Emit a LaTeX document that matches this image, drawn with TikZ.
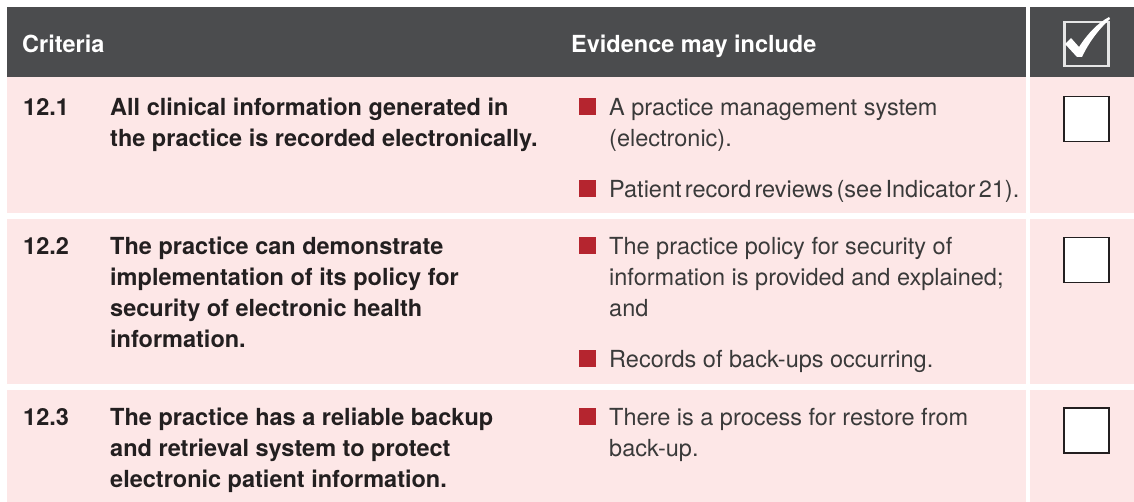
\documentclass[tikz,border=0pt]{standalone}
\usepackage{fontspec}
\setmainfont{TeX Gyre Heros}
\definecolor{headgray}{HTML}{4B4C4E}
\definecolor{rowpink}{HTML}{FDE7E7}
\definecolor{bulletred}{HTML}{B5252F}
\definecolor{inkdark}{HTML}{231F20}
\definecolor{inkgray}{HTML}{3A3A3A}
\begin{document}
\begin{tikzpicture}[x=1pt,y=-1pt,
   headtxt/.style={anchor=north west,inner sep=0,text=white,
      font=\fontsize{23.5}{31}\selectfont\bfseries,execute at begin node=\strut},
   crit/.style={anchor=north west,inner sep=0,align=left,text=inkdark,
      font=\fontsize{23.5}{31}\selectfont\bfseries},
   evid/.style={anchor=north west,inner sep=0,align=left,text=inkgray,
      font=\fontsize{23.5}{31}\selectfont},
   bul/.style={fill=bulletred,minimum size=17pt,inner sep=0,anchor=south west},
   tickbox/.style={draw=inkdark,fill=white,line width=1.5pt,minimum size=45pt,
      inner sep=0,anchor=north west}]
   \useasboundingbox (0,0) rectangle (1134,502);

   % header and rows
   \fill[headgray] (7,7) rectangle (1026,77);
   \fill[headgray] (1030,7) rectangle (1134,77);
   \fill[rowpink] (7,77) rectangle (1026,213);
   \fill[rowpink] (1030,77) rectangle (1134,213);
   \fill[rowpink] (7,219) rectangle (1026,384);
   \fill[rowpink] (1030,219) rectangle (1134,384);
   \fill[rowpink] (7,390) rectangle (1026,502);
   \fill[rowpink] (1030,390) rectangle (1134,502);

   \node[headtxt] (hcrit) at (22,30.3) {Criteria};
   \node[headtxt] (hevid) at (571,30.3) {Evidence may include};
   \node[draw=white!90!black,line width=2.5pt,minimum size=44pt,inner sep=0,
      anchor=north west] (hbox) at (1063,21) {};
   \fill[white] (1065,44) -- (1071,38) -- (1079,47)
      .. controls (1088,33) and (1098,23) .. (1109,17) -- (1110,19)
      .. controls (1099,29) and (1089,42) .. (1082,57) -- (1077,57) -- cycle;

   % 12.1
   \node[crit] (n1) at (23,93.3) {\strut 12.1};
   \node[crit] (c1) at (110,93.3) {\strut All clinical information generated in\\
      the practice is recorded electronically.};
   \node[bul] (b1a) at (579,115) {};
   \node[evid] (e1a) at (609,93.3) {\strut A practice management system\\(electronic).};
   \node[bul] (b1b) at (579,197) {};
   \node[evid] (e1b) at (609,175.3)
      {\strut\spaceskip=3.3pt Patient record reviews (see Indicator 21).};
   \node[tickbox] (t1) at (1063,96) {};

   % 12.2
   \node[crit] (n2) at (23,232.3) {\strut 12.2};
   \node[crit] (c2) at (110,232.3) {\strut The practice can demonstrate\\
      implementation of its policy for\\security of electronic health\\information.};
   \node[bul] (b2a) at (579,254) {};
   \node[evid] (e2a) at (609,232.3) {\strut The practice policy for security of\\
      information is provided and explained;\\and};
   \node[bul] (b2b) at (579,367) {};
   \node[evid] (e2b) at (609,345.3) {\strut Records of back-ups occurring.};
   \node[tickbox] (t2) at (1063,237) {};

   % 12.3
   \node[crit] (n3) at (23,403.3) {\strut 12.3};
   \node[crit] (c3) at (110,403.3) {\strut The practice has a reliable backup\\
      and retrieval system to protect\\electronic patient information.};
   \node[bul] (b3a) at (579,425) {};
   \node[evid] (e3a) at (609,403.3) {\strut There is a process for restore from\\back-up.};
   \node[tickbox] (t3) at (1063,407) {};
\end{tikzpicture}
\end{document}
